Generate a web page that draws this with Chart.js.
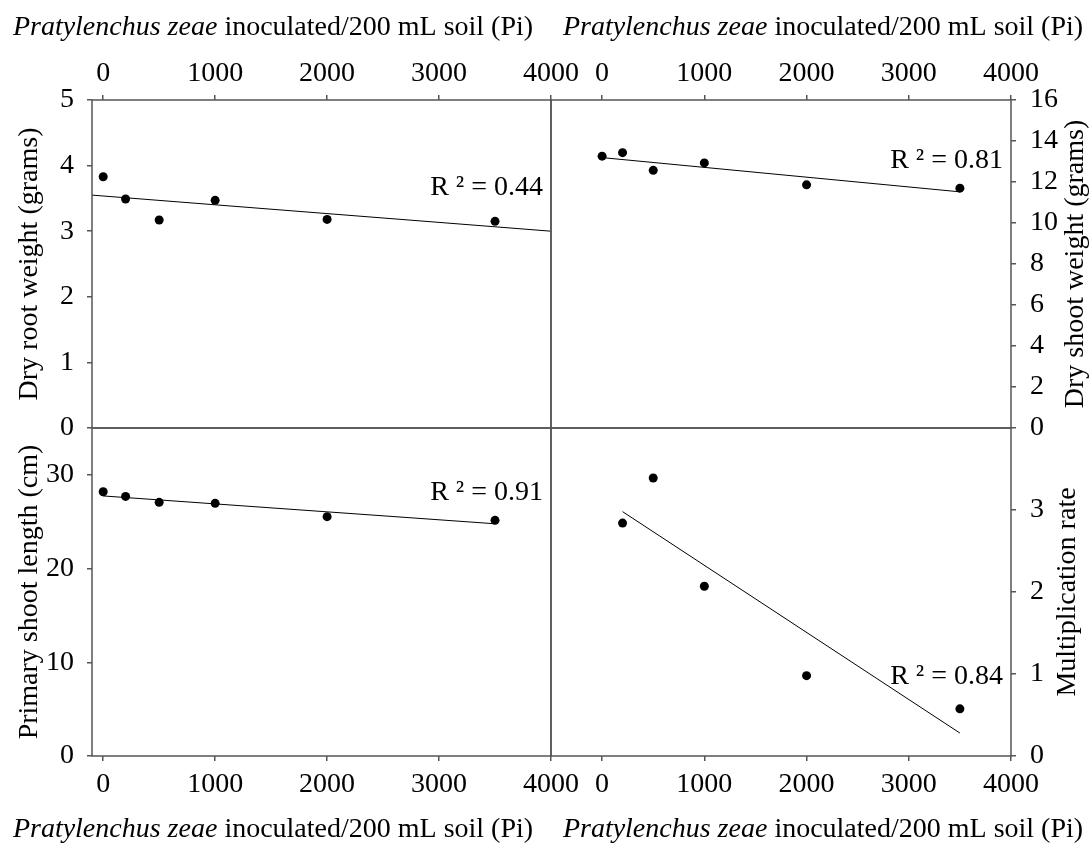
<!DOCTYPE html>
<html>
<head>
<meta charset="utf-8">
<script src="https://cdn.jsdelivr.net/npm/chart.js@4.4.1/dist/chart.umd.min.js"></script>
<style>
  html, body { margin: 0; padding: 0; background: #fff; }
  #wrap { position: relative; width: 1090px; height: 847px; }
  #wrap canvas { position: absolute; left: 0; top: 0; }
</style>
</head>
<body>
<div id="wrap">
  <canvas id="rootChart" width="1090" height="847"></canvas>
  <canvas id="shootChart" width="1090" height="847"></canvas>
  <canvas id="lengthChart" width="1090" height="847"></canvas>
  <canvas id="multChart" width="1090" height="847"></canvas>
</div>
<script>
// inoculum levels (Pi)
const piLevels = [0, 200, 500, 1000, 2000, 3500];
const multPi = [200, 500, 1000, 2000, 3500];

// measured values
const rootWeight = [3.83, 3.49, 3.17, 3.47, 3.18, 3.15];
const shootWeight = [13.26, 13.43, 12.57, 12.93, 11.86, 11.70];
const shootLength = [28.2, 27.7, 27.07, 26.96, 25.54, 25.15];
const multRate = [2.84, 3.39, 2.07, 0.98, 0.575];

// fitted lines (end points)
const rootTrendX = [-100, 4000], rootTrendY = [3.55, 3.0];
const shootTrendX = [0, 3500], shootTrendY = [13.19, 11.52];
const lengthTrendX = [0, 3500], lengthTrendY = [27.75, 24.78];
const multTrendX = [200, 3500], multTrendY = [2.98, 0.28];

const r2Labels = ["R \u00b2 = 0.44", "R \u00b2 = 0.81", "R \u00b2 = 0.91", "R \u00b2 = 0.84"];

// tick labels
const xTicks = [0, 1000, 2000, 3000, 4000];
const rootTicks = [0, 1, 2, 3, 4, 5];
const shootTicks = [0, 2, 4, 6, 8, 10, 12, 14, 16];
const lengthTicks = [0, 10, 20, 30];
const multTicks = [0, 1, 2, 3];

const FONT = "'Liberation Serif', 'Times New Roman', serif";
const FS = 28;
const AXIS = "#555555";
const SPECIES = "Pratylenchus zeae";
const REST = " inoculated/200 mL soil (Pi)";

const panelText = {
  id: "panelText",
  afterDraw(chart, args, opts) {
    const { ctx, chartArea: a, scales } = chart;
    ctx.save();
    ctx.strokeStyle = AXIS;
    ctx.lineWidth = 1.5;
    ctx.strokeRect(a.left, a.top, a.right - a.left, a.bottom - a.top);

    ctx.fillStyle = "#000";
    ctx.font = FS + "px " + FONT;
    ctx.textAlign = "right";
    ctx.textBaseline = "middle";
    ctx.fillText(opts.r2, a.right - 8, scales.y.getPixelForValue(opts.r2At));

    ctx.save();
    ctx.translate(opts.yTitleX, (a.top + a.bottom) / 2);
    ctx.rotate(-Math.PI / 2);
    ctx.textAlign = "center";
    ctx.fillText(opts.yTitle, 0, 0);
    ctx.restore();

    // x title with italic species name
    const italic = "italic " + FS + "px " + FONT, normal = FS + "px " + FONT;
    ctx.font = italic;
    const w1 = ctx.measureText(SPECIES).width;
    ctx.font = normal;
    const w2 = ctx.measureText(REST).width;
    const x0 = opts.xTitleX - (w1 + w2) / 2;
    ctx.textAlign = "left";
    ctx.font = italic;
    ctx.fillText(SPECIES, x0, opts.xTitleY);
    ctx.font = normal;
    ctx.fillText(REST, x0 + w1, opts.xTitleY);
    ctx.restore();
  }
};

function makePanel(id, cfg) {
  const pts = cfg.xs.map((x, i) => ({ x, y: cfg.ys[i] }));
  const line = cfg.trendX.map((x, i) => ({ x, y: cfg.trendY[i] }));
  return new Chart(document.getElementById(id), {
    type: "scatter",
    data: {
      datasets: [
        { data: pts, pointRadius: 4.5, pointHoverRadius: 4.5, backgroundColor: "#000", borderWidth: 0 },
        { data: line, showLine: true, pointRadius: 0, borderColor: "#000", borderWidth: 1 }
      ]
    },
    options: {
      responsive: false,
      animation: false,
      devicePixelRatio: 1,
      events: [],
      layout: { padding: cfg.pad },
      plugins: { legend: { display: false }, tooltip: { enabled: false }, panelText: cfg.text },
      scales: {
        x: {
          type: "linear",
          position: cfg.xPos,
          min: cfg.xMin,
          max: 4000,
          afterBuildTicks: s => { s.ticks = xTicks.map(v => ({ value: v })); },
          afterFit: s => { s.height = 60; },
          ticks: {
            font: { family: FONT, size: FS },
            color: "#000",
            padding: cfg.xPos === "top" ? 5 : 7,
            maxRotation: 0,
            autoSkip: false,
            callback: v => String(v)
          },
          grid: { drawOnChartArea: false, tickLength: 5, color: AXIS, lineWidth: 1.5 },
          border: { display: false }
        },
        y: {
          type: "linear",
          position: cfg.yPos,
          min: 0,
          max: cfg.yMax,
          afterBuildTicks: s => { s.ticks = cfg.yTicks.map(v => ({ value: v })); },
          afterFit: s => { s.width = 70; },
          ticks: {
            font: { family: FONT, size: FS },
            color: "#000",
            padding: cfg.yPos === "left" ? 13 : 14,
            autoSkip: false,
            callback: v => String(v)
          },
          grid: { drawOnChartArea: false, tickLength: 5, color: AXIS, lineWidth: 1.5 },
          border: { display: false }
        }
      }
    },
    plugins: [panelText]
  });
}

makePanel("rootChart", {
  xs: piLevels, ys: rootWeight, trendX: rootTrendX, trendY: rootTrendY,
  xPos: "top", yPos: "left", xMin: -100, yMax: 5, yTicks: rootTicks,
  pad: { left: 22, top: 40, right: 539, bottom: 419 },
  text: { r2: r2Labels[0], r2At: 3.66, yTitle: "Dry root weight (grams)", yTitleX: 30, xTitleX: 273, xTitleY: 28 }
});

makePanel("shootChart", {
  xs: piLevels, ys: shootWeight, trendX: shootTrendX, trendY: shootTrendY,
  xPos: "top", yPos: "right", xMin: -500, yMax: 16, yTicks: shootTicks,
  pad: { left: 551, top: 40, right: 9, bottom: 419 },
  text: { r2: r2Labels[1], r2At: 13.03, yTitle: "Dry shoot weight (grams)", yTitleX: 1076, xTitleX: 823, xTitleY: 28 }
});

makePanel("lengthChart", {
  xs: piLevels, ys: shootLength, trendX: lengthTrendX, trendY: lengthTrendY,
  xPos: "bottom", yPos: "left", xMin: -100, yMax: 35, yTicks: lengthTicks,
  pad: { left: 22, top: 428, right: 539, bottom: 31 },
  text: { r2: r2Labels[2], r2At: 28.1, yTitle: "Primary shoot length (cm)", yTitleX: 30, xTitleX: 273, xTitleY: 830 }
});

makePanel("multChart", {
  xs: multPi, ys: multRate, trendX: multTrendX, trendY: multTrendY,
  xPos: "bottom", yPos: "right", xMin: -500, yMax: 4, yTicks: multTicks,
  pad: { left: 551, top: 428, right: 9, bottom: 31 },
  text: { r2: r2Labels[3], r2At: 0.97, yTitle: "Multiplication rate", yTitleX: 1068, xTitleX: 823, xTitleY: 830 }
});
</script>
</body>
</html>
